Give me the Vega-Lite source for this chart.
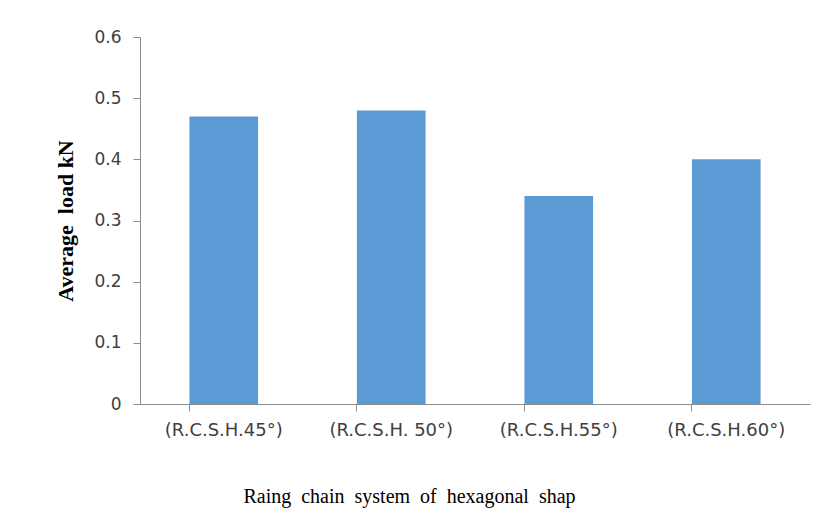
{
  "$schema": "https://vega.github.io/schema/vega-lite/v6.json",
  "width": 670,
  "height": 367,
  "autosize": {"type": "none"},
  "padding": {"left": 140, "top": 37, "right": 12, "bottom": 124},
  "background": "white",
  "config": {"view": {"stroke": null}},
  "data": {"values": [
    {"system": "(R.C.S.H.45°)", "load": 0.47},
    {"system": "(R.C.S.H. 50°)", "load": 0.48},
    {"system": "(R.C.S.H.55°)", "load": 0.34},
    {"system": "(R.C.S.H.60°)", "load": 0.40}
  ]},
  "mark": {"type": "bar", "color": "#5B9BD5"},
  "encoding": {
    "x": {
      "field": "system", "type": "nominal", "sort": null,
      "scale": {"paddingInner": 0.59, "paddingOuter": 0.295},
      "axis": {
        "title": "Raing \u00a0chain \u00a0system \u00a0of \u00a0hexagonal \u00a0shap",
        "titleFont": "Liberation Serif", "titleFontSize": 20, "titleFontWeight": "normal",
        "titleColor": "#000000", "titleX": 269, "titleY": 98, "titleBaseline": "alphabetic",
        "labelFont": "DejaVu Sans", "labelFontSize": 18, "labelColor": "#404040",
        "labelAngle": 0, "labelPadding": 10, "bandPosition": 0,
        "domainColor": "#8c8c8c", "tickColor": "#8c8c8c", "tickSize": 7,
        "grid": false
      }
    },
    "y": {
      "field": "load", "type": "quantitative",
      "scale": {"domain": [0, 0.6]},
      "axis": {
        "title": "Average \u00a0load kN",
        "titleFont": "Liberation Serif", "titleFontSize": 22, "titleFontWeight": "bold",
        "titleColor": "#000000", "titleX": -75, "titleBaseline": "middle",
        "values": [0, 0.1, 0.2, 0.3, 0.4, 0.5, 0.6],
        "format": ".1~f",
        "labelFont": "DejaVu Sans", "labelFontSize": 17, "labelColor": "#404040",
        "labelPadding": 12,
        "domainColor": "#8c8c8c", "tickColor": "#8c8c8c", "tickSize": 7,
        "grid": false
      }
    }
  }
}
